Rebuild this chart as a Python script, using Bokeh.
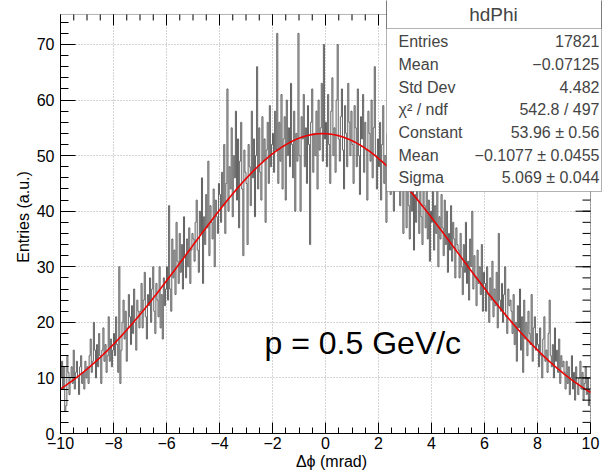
import numpy as np
from bokeh.plotting import figure
from bokeh.models import SingleIntervalTicker, BoxAnnotation, Label, Range1d
from bokeh.embed import file_html
from bokeh.resources import INLINE

# ---------------- data ----------------
x_min, x_max = -10.0, 10.0
y_max = 75.4

# bin contents, 500 bins of 0.04 mrad, rows of 1 mrad
counts_m10 = [10, 13, 8, 12, 4, 5, 14, 11, 7, 10, 12, 9, 15, 8, 11, 13, 10, 7, 12, 14, 9, 11, 8, 13, 10]
counts_m9 = [12, 9, 14, 17, 11, 13, 20, 15, 10, 16, 12, 18, 14, 9, 15, 19, 13, 16, 11, 14, 21, 13, 17, 12, 15]
counts_m8 = [18, 14, 21, 16, 11, 30, 9, 15, 20, 24, 17, 22, 13, 19, 25, 21, 16, 23, 18, 26, 20, 15, 24, 22, 19]
counts_m7 = [22, 27, 19, 24, 29, 21, 17, 25, 23, 28, 20, 26, 30, 22, 18, 27, 24, 21, 30, 19, 25, 17, 28, 23, 26]
counts_m6 = [30, 24, 41, 26, 22, 35, 28, 33, 25, 38, 31, 27, 36, 29, 34, 26, 39, 32, 28, 35, 30, 37, 27, 33, 36]
counts_m5 = [35, 31, 38, 42, 33, 29, 40, 36, 46, 27, 39, 34, 43, 37, 49, 32, 41, 38, 35, 44, 30, 42, 39, 36, 45]
counts_m4 = [43, 38, 47, 41, 52, 36, 45, 62, 40, 48, 44, 55, 39, 50, 46, 58, 42, 53, 37, 49, 56, 44, 32, 51, 47]
counts_m3 = [45, 34, 52, 48, 41, 58, 46, 53, 39, 50, 66, 44, 55, 47, 42, 57, 49, 53, 38, 51, 56, 45, 59, 48, 52]
counts_m2 = [54, 47, 58, 51, 72, 45, 56, 49, 61, 44, 53, 57, 42, 60, 50, 55, 48, 63, 52, 46, 58, 40, 54, 49, 72]
counts_m1 = [50, 40, 57, 53, 61, 48, 55, 45, 59, 52, 34, 56, 62, 47, 54, 50, 58, 44, 60, 51, 55, 63, 49, 70, 53]
counts_p0 = [56, 48, 61, 52, 45, 58, 64, 50, 55, 47, 60, 70, 53, 49, 57, 62, 51, 44, 59, 54, 48, 63, 56, 50, 58]
counts_p1 = [52, 45, 59, 55, 48, 62, 50, 43, 57, 53, 61, 47, 56, 51, 42, 58, 54, 49, 60, 46, 55, 66, 50, 44, 53]
counts_p2 = [48, 56, 42, 52, 59, 45, 50, 38, 54, 47, 61, 43, 51, 57, 40, 49, 55, 44, 58, 46, 41, 53, 48, 36, 50]
counts_p3 = [44, 37, 48, 41, 35, 46, 40, 50, 33, 43, 38, 47, 42, 36, 45, 39, 34, 44, 41, 37, 46, 35, 42, 31, 40]
counts_p4 = [38, 46, 33, 41, 36, 48, 30, 39, 35, 43, 37, 32, 42, 34, 40, 29, 36, 33, 41, 31, 38, 35, 28, 37, 34]
counts_p5 = [33, 28, 36, 30, 25, 34, 29, 38, 27, 31, 24, 35, 30, 40, 26, 32, 28, 23, 33, 27, 30, 25, 34, 22, 29]
counts_p6 = [27, 22, 30, 25, 20, 28, 24, 31, 21, 26, 23, 29, 19, 36, 24, 22, 27, 20, 25, 30, 21, 18, 26, 23, 24]
counts_p7 = [22, 18, 25, 16, 20, 13, 23, 19, 26, 15, 21, 11, 24, 17, 20, 14, 22, 18, 16, 25, 13, 19, 21, 15, 18]
counts_p8 = [16, 12, 19, 14, 10, 17, 21, 13, 15, 11, 18, 24, 14, 12, 16, 10, 19, 13, 15, 11, 17, 9, 14, 12, 13]
counts_p9 = [11, 8, 13, 9, 12, 7, 10, 14, 8, 11, 6, 12, 9, 7, 10, 13, 8, 11, 6, 9, 12, 7, 10, 5, 8]

counts = (counts_m10 + counts_m9 + counts_m8 + counts_m7 + counts_m6 + counts_m5 + counts_m4
          + counts_m3 + counts_m2 + counts_m1 + counts_p0 + counts_p1 + counts_p2 + counts_p3
          + counts_p4 + counts_p5 + counts_p6 + counts_p7 + counts_p8 + counts_p9)

# Gaussian fit parameters (from the stats box)
fit_constant = 53.96
fit_mean = -0.1077
fit_sigma = 5.069

x_ticks = [-10, -8, -6, -4, -2, 0, 2, 4, 6, 8, 10]
y_ticks = [0, 10, 20, 30, 40, 50, 60, 70]
x_minor_step = 0.5
y_minor_step = 2.0

stats_title = "hdPhi"
stats_names = ["Entries", "Mean", "Std Dev", "\u03c7\u00b2 / ndf", "Constant", "Mean", "Sigma"]
stats_values = ["17821", "\u22120.07125", "4.482", "542.8 / 497",
                "53.96 \u00b1 0.56", "\u22120.1077 \u00b1 0.0455", "5.069 \u00b1 0.044"]

annotation_text = "p = 0.5 GeV/c"
x_title = "\u0394\u03d5 (mrad)"
y_title = "Entries (a.u.)"

# ---------------- layout geometry (pixels) ----------------
FONT = "Liberation Sans"
W, H = 602, 472
L, B = 60, 38                 # canvas margins left / bottom
ROOT_RIGHT, ROOT_TOP = 12, 14  # ROOT frame inset from canvas right / top
frame_w = W - L
frame_h = H - B
px_per_x = (frame_w - ROOT_RIGHT) / (x_max - x_min)
px_per_y = (frame_h - ROOT_TOP) / y_max
x_end = x_max + ROOT_RIGHT / px_per_x
y_end = y_max + ROOT_TOP / px_per_y

p = figure(width=W, height=H, x_range=Range1d(x_min, x_end), y_range=Range1d(0, y_end),
           output_backend="svg", toolbar_location=None,
           min_border_left=L, min_border_right=0, min_border_top=0, min_border_bottom=B)
p.background_fill_color = "white"
p.border_fill_color = "white"
p.outline_line_color = None

xt = SingleIntervalTicker(interval=2, num_minor_ticks=4)
yt = SingleIntervalTicker(interval=10, num_minor_ticks=5)

X_MAJ, X_MIN = 11, 6
Y_MAJ, Y_MIN = 15, 8

xa = p.xaxis[0]
ya = p.yaxis[0]
for ax, tk, maj, mnr in ((xa, xt, X_MAJ, X_MIN), (ya, yt, Y_MAJ, Y_MIN)):
    ax.ticker = tk
    ax.axis_line_color = "black"
    ax.major_tick_line_color = "black"
    ax.minor_tick_line_color = "black"
    ax.major_tick_in = maj
    ax.major_tick_out = 0
    ax.minor_tick_in = mnr
    ax.minor_tick_out = 0
    ax.major_label_text_font = FONT
    ax.major_label_text_font_size = "16px"
    ax.major_label_text_color = "black"
    ax.axis_label_text_font = FONT
    ax.axis_label_text_font_size = "16px"
    ax.axis_label_text_font_style = "normal"
    ax.axis_label_text_color = "black"
xa.bounds = (x_min, x_max)
ya.bounds = (0, y_max)
xa.major_label_overrides = {v: str(v).replace("-", "\u2212") for v in x_ticks}
xa.major_label_standoff = 3
xa.axis_label = x_title
xa.axis_label_standoff = 1
ya.axis_label = y_title
ya.major_label_standoff = 6
ya.axis_label_standoff = 2

p.xgrid.ticker = xt
p.ygrid.ticker = yt
p.xgrid.bounds = (x_min, x_max)
p.ygrid.bounds = (0, y_max)
p.xgrid.cross_bounds = (0, y_max)
p.ygrid.cross_bounds = (x_min, x_max)
for g in (p.xgrid, p.ygrid):
    g.grid_line_color = "#a8a8a8"
    g.grid_line_dash = "1 2"
    g.grid_line_width = 1

# ROOT frame box
p.add_layout(BoxAnnotation(left=x_min, right=x_max, bottom=0, top=y_max,
                           fill_alpha=0.0, line_color="black", line_width=1, level="underlay"))

# histogram outline
edges = np.linspace(x_min, x_max, len(counts) + 1)
p.step(x=list(edges), y=counts + [counts[-1]], mode="after",
       line_color="#616161", line_width=1.0)

# fit curve
xf = np.linspace(x_min, x_max, 400)
yf = fit_constant * np.exp(-0.5 * ((xf - fit_mean) / fit_sigma) ** 2)
p.line(xf, yf, line_color="#ee0000", line_width=1.6)

# ticks on top and right sides of the ROOT frame (pointing inward)
xmaj = np.array(x_ticks, dtype=float)
xmin_t = np.arange(x_min, x_max + 1e-9, x_minor_step)
ymaj = np.array(y_ticks, dtype=float)
ymin_t = np.arange(0, y_max, y_minor_step)
p.segment(x0=xmaj, y0=y_max, x1=xmaj, y1=y_max - X_MAJ / px_per_y, line_color="black", line_width=1)
p.segment(x0=xmin_t, y0=y_max, x1=xmin_t, y1=y_max - X_MIN / px_per_y, line_color="black", line_width=1)
p.segment(x0=x_max, y0=ymaj, x1=x_max - Y_MAJ / px_per_x, y1=ymaj, line_color="black", line_width=1)
p.segment(x0=x_max, y0=ymin_t, x1=x_max - Y_MIN / px_per_x, y1=ymin_t, line_color="black", line_width=1)

# momentum annotation
p.add_layout(Label(x=-2.3, y=16.2, text=annotation_text, text_font=FONT,
                   text_font_size="32px", text_color="black", text_baseline="alphabetic"))

# stats box (screen units relative to the frame: x from left, y up from bottom)


def sy(y_canvas):
    return frame_h - y_canvas


def sx(x_canvas):
    return x_canvas - L


p.add_layout(BoxAnnotation(left=sx(386), right=sx(601), top=sy(0), bottom=sy(192),
                           left_units="screen", right_units="screen",
                           top_units="screen", bottom_units="screen",
                           fill_color="white", fill_alpha=1.0,
                           line_color="black", line_width=1, level="overlay"))
p.add_layout(BoxAnnotation(left=sx(386), right=sx(601), top=sy(0), bottom=sy(29),
                           left_units="screen", right_units="screen",
                           top_units="screen", bottom_units="screen",
                           fill_alpha=0.0, line_color="black", line_width=1, level="overlay"))
p.add_layout(Label(x=sx(493), y=sy(15), x_units="screen", y_units="screen", text=stats_title,
                   text_font=FONT, text_font_size="19px", text_align="center",
                   text_baseline="middle", level="overlay"))
row_y = [41.5, 64.5, 87.5, 110, 133, 155.5, 178]
for name, val, yy in zip(stats_names, stats_values, row_y):
    p.add_layout(Label(x=sx(398), y=sy(yy), x_units="screen", y_units="screen", text=name,
                       text_font=FONT, text_font_size="16px", text_align="left",
                       text_baseline="middle", level="overlay"))
    p.add_layout(Label(x=sx(599), y=sy(yy), x_units="screen", y_units="screen", text=val,
                       text_font=FONT, text_font_size="16px", text_align="right",
                       text_baseline="middle", level="overlay"))

open("out.html", "w").write(file_html(p, INLINE))
